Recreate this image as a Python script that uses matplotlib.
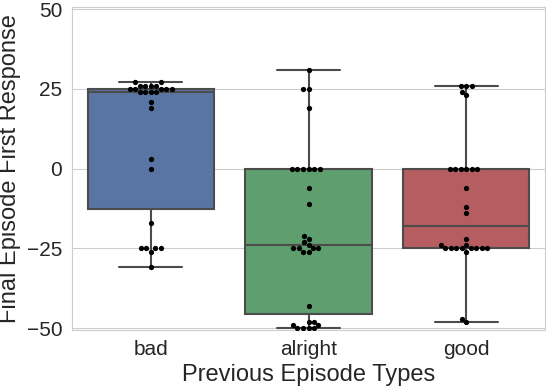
import matplotlib
matplotlib.use("Agg")
import matplotlib.pyplot as plt
import seaborn as sns
import pandas as pd

# final-episode first responses grouped by previous episode type
categories = ["bad", "alright", "good"]
bad = [-31, -26, -25, -25, -25, -25, -17, 0, 3, 19, 21, 24, 24, 24, 24,
       25, 25, 25, 25, 25, 26, 26, 26, 26, 27, 27]
alright = [-50, -50, -50, -50, -49, -49, -48, -48, -43,
           -26, -26, -25, -25, -25, -25, -24, -23, -22, -21,
           -11, -6, 0, 0, 0, 0, 0, 0, 19, 25, 25, 31]
good = [-48, -47, -26, -25, -25, -25, -25, -25, -25, -25, -25, -24, -24,
        -22, -14, -12, -6, 0, 0, 0, 0, 0, 0, 23, 24, 26, 26, 26]
colors = ["#4C72B0", "#55A868", "#C44E52"]

df = pd.DataFrame({
    "type": ["bad"] * len(bad) + ["alright"] * len(alright) + ["good"] * len(good),
    "resp": bad + alright + good,
})

sns.set_style("whitegrid")
plt.rcParams["font.family"] = ["Liberation Sans", "DejaVu Sans"]
plt.rcParams["axes.edgecolor"] = "#cccccc"

fig = plt.figure(figsize=(5.46, 3.86), dpi=100)
ax = fig.add_axes([72 / 546, 1 - 330 / 386, (545 - 72) / 546, (330 - 6.5) / 386])

sns.boxplot(data=df, x="type", y="resp", order=categories, hue="type",
            palette=colors, saturation=0.75, linewidth=1.5, ax=ax,
            showfliers=False, legend=False)
sns.swarmplot(data=df, x="type", y="resp", order=categories, color="black",
              size=3.8, ax=ax)

ax.set_ylim(-50.6, 50.8)
ax.set_yticks([-50, -25, 0, 25, 50])
ax.set_xlabel("Previous Episode Types", fontsize=17)
ax.set_ylabel("Final Episode First Response", fontsize=17)
ax.tick_params(labelsize=15)
ax.grid(axis="x", visible=False)

fig.savefig("out.png", dpi=100)
